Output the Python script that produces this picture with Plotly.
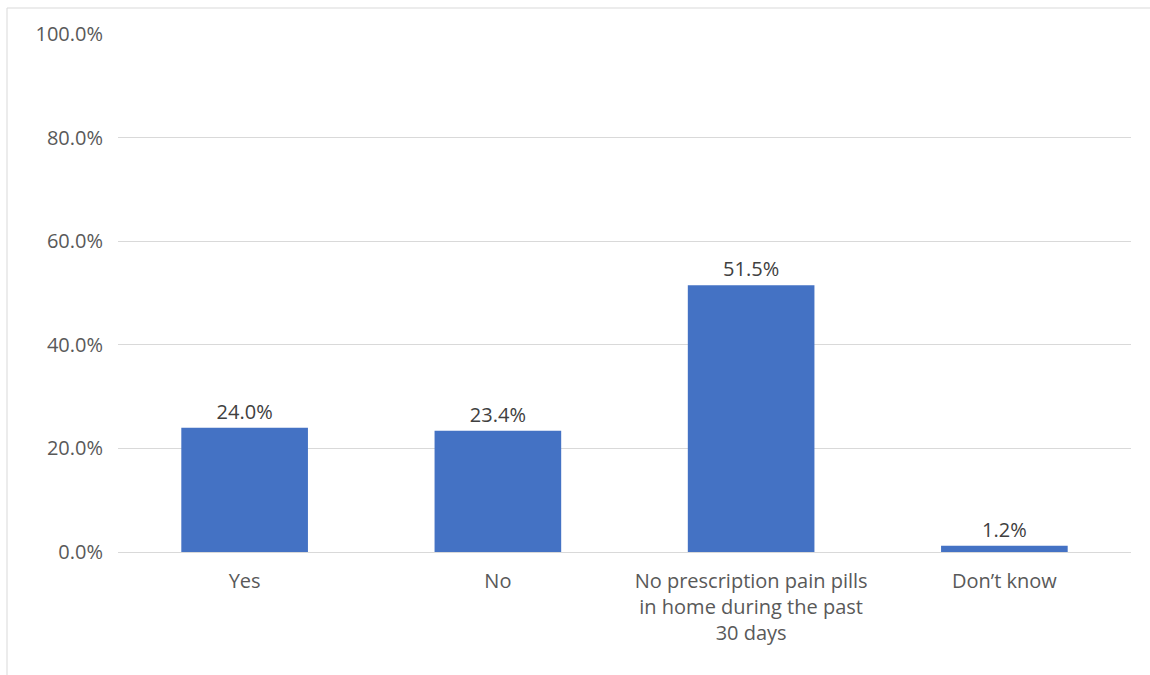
import plotly.graph_objects as go

categories = ["Yes", "No", "No prescription pain pills<br>in home during the past<br>30 days", "Don\u2019t know"]
values = [24.0, 23.4, 51.5, 1.2]
labels = ["24.0%", "23.4%", "51.5%", "1.2%"]
y_ticks = [0, 20, 40, 60, 80, 100]
y_tick_text = ["0.0%", "20.0%", "40.0%", "60.0%", "80.0%", "100.0%"]

FONT = "Open Sans, sans-serif"
GRAY = "#595959"
SIZE = 20

fig = go.Figure(go.Bar(
    x=categories, y=values, text=labels, textposition="outside",
    textfont=dict(family=FONT, size=SIZE, color="#404040"),
    marker=dict(color="#4472C4", line=dict(width=0)),
    cliponaxis=False,
))

fig.update_layout(
    width=1150, height=675,
    margin=dict(l=118, r=19, t=34, b=123),
    paper_bgcolor="white", plot_bgcolor="white",
    bargap=0.5, showlegend=False,
    font=dict(family=FONT, size=SIZE, color=GRAY),
    xaxis=dict(showgrid=False, showline=False, ticks="", ticklabelstandoff=15,
               tickfont=dict(family=FONT, size=SIZE, color=GRAY)),
    yaxis=dict(range=[0, 100], tickvals=y_ticks, ticktext=y_tick_text,
               showgrid=True, gridcolor="#d9d9d9", gridwidth=1,
               zeroline=True, zerolinecolor="#d9d9d9", zerolinewidth=1,
               showline=False, ticks="", ticklabelstandoff=14,
               tickfont=dict(family=FONT, size=SIZE, color=GRAY)),
    shapes=[dict(type="rect", xref="paper", yref="paper",
                 x0=(7 - 118) / 1013, x1=(1152 - 118) / 1013,
                 y0=(552 - 677) / 518, y1=(552 - 8) / 518,
                 line=dict(color="#d9d9d9", width=1), fillcolor="rgba(0,0,0,0)",
                 layer="below")],
)

fig.write_html("out.html", config={"displayModeBar": False},
               post_script="document.body.style.margin='0';")
